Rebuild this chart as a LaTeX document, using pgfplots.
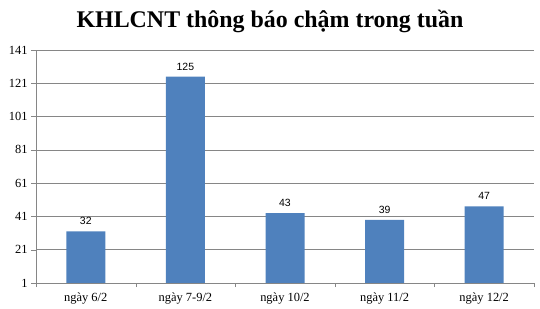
\documentclass[border=0pt]{standalone}
\usepackage{pgfplots}
\pgfplotsset{compat=1.18}
\usepackage{fontspec}
\setmainfont{Liberation Serif}
\newfontfamily\labfont{Liberation Sans}
\definecolor{barblue}{HTML}{4F81BD}
\definecolor{gridgray}{HTML}{868686}
\begin{document}
\begin{tikzpicture}[x=1bp,y=1bp]
\path[use as bounding box] (-36bp,-26bp) rectangle (504bp,283bp);
\begin{axis}[
  at={(0,0)}, anchor=south west,
  scale only axis, width=498bp, height=233bp,
  xmin=-0.5, xmax=4.5, ymin=1, ymax=141,
  axis x line*=bottom, axis y line*=left,
  axis line style={gridgray,-},
  ytick={1,21,...,141},
  ymajorgrids, grid style={gridgray, line width=0.6pt},
  xtick={0,1,2,3,4},
  xticklabels={ngày 6/2, ngày 7-9/2, ngày 10/2, ngày 11/2, ngày 12/2},
  major x tick style={draw=none},
  minor xtick={-0.5,0.5,1.5,2.5,3.5,4.5},
  minor tick length=4bp,
  major tick length=5bp,
  tick align=outside,
  tick style={gridgray},
  minor x tick style={gridgray},
  ticklabel style={font=\fontsize{12.5}{14}\selectfont, black},
  /pgf/number format/assume math mode=true,
  yticklabel style={xshift=0bp},
  xticklabel style={yshift=-1bp},
  ybar, bar width=39bp,
  nodes near coords,
  every node near coord/.append style={font=\labfont\fontsize{10.5}{12}\selectfont, black, yshift=3bp},
]
\addplot[fill=barblue, draw=none] coordinates {(0,32) (1,125) (2,43) (3,39) (4,47)};
\end{axis}
\node[font=\bfseries\fontsize{24}{28}\selectfont] at (234bp,262bp) {KHLCNT thông báo chậm trong tuần};
\end{tikzpicture}
\end{document}
